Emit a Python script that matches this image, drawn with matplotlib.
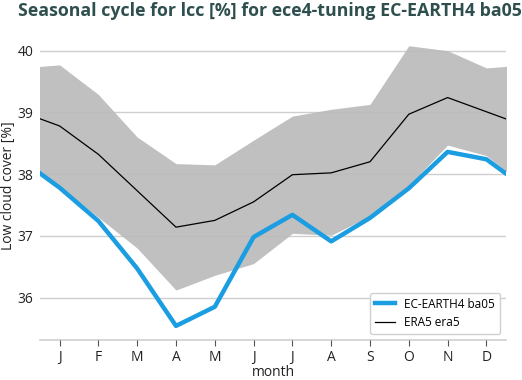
import numpy as np
import matplotlib.pyplot as plt

plt.rcParams['font.family'] = ['Open Sans', 'DejaVu Sans']

months = ['J', 'F', 'M', 'A', 'M', 'J', 'J', 'A', 'S', 'O', 'N', 'D']
model = [37.78, 37.24, 36.47, 35.54, 35.85, 36.98, 37.34, 36.91, 37.29, 37.77, 38.36, 38.24]
era5 = [38.78, 38.32, 37.73, 37.14, 37.25, 37.55, 37.99, 38.02, 38.20, 38.97, 39.24, 39.01]
era5_hi = [39.77, 39.29, 38.60, 38.17, 38.15, 38.55, 38.94, 39.05, 39.13, 40.08, 40.00, 39.72]
era5_lo = [37.80, 37.30, 36.80, 36.12, 36.36, 36.55, 37.04, 37.01, 37.32, 37.82, 38.47, 38.30]


def wrap(v):
    # Dec before Jan and Jan after Dec, so the cycle runs to the plot edges
    return [v[-1]] + list(v) + [v[0]]


x = np.arange(0, 14)

fig = plt.figure(figsize=(5.22, 3.8), dpi=100)
ax = fig.add_axes([0.077, 0.105, 0.892, 0.812])

ax.fill_between(x, wrap(era5_lo), wrap(era5_hi), color='#c0c0c0', lw=0, zorder=1)
ax.plot(x, wrap(model), color='#1b9de2', lw=3.2, label='EC-EARTH4 ba05', zorder=3)
ax.plot(x, wrap(era5), color='black', lw=0.9, label='ERA5 era5', zorder=3)

ax.set_xlim(0.5, 12.5)
ax.set_ylim(35.31, 40.31)
ax.set_xticks(range(1, 13))
ax.set_xticklabels(months)
ax.set_yticks([36, 37, 38, 39, 40])
ax.grid(axis='y', color='#bbbbbb', lw=1, alpha=0.7, zorder=2)
ax.set_axisbelow(False)
for s in ['top', 'left', 'right']:
    ax.spines[s].set_visible(False)
ax.spines['bottom'].set_color('#d0d0d0')
ax.spines['bottom'].set_linewidth(1.2)
ax.tick_params(axis='y', length=0, labelsize=10, colors='#222222', pad=5)
ax.tick_params(axis='x', length=4, color='#555555', labelsize=10, labelcolor='#222222', pad=3)

ax.set_xlabel('month', fontsize=10, color='#222222', labelpad=0)
ax.set_ylabel('Low cloud cover [%]', fontsize=10, color='#222222', labelpad=1)

leg = ax.legend(loc='lower right', fontsize=8.5, frameon=True, fancybox=True,
                edgecolor='#d0d0d0', framealpha=1, borderaxespad=0.5, handlelength=1.7)
leg.get_frame().set_linewidth(1)

fig.suptitle('Seasonal cycle for lcc [%] for ece4-tuning EC-EARTH4 ba05',
             fontsize=12.8, fontweight='bold', color='#2f4f4f', x=0.517, y=0.995)

fig.savefig('out.png', dpi=100)
